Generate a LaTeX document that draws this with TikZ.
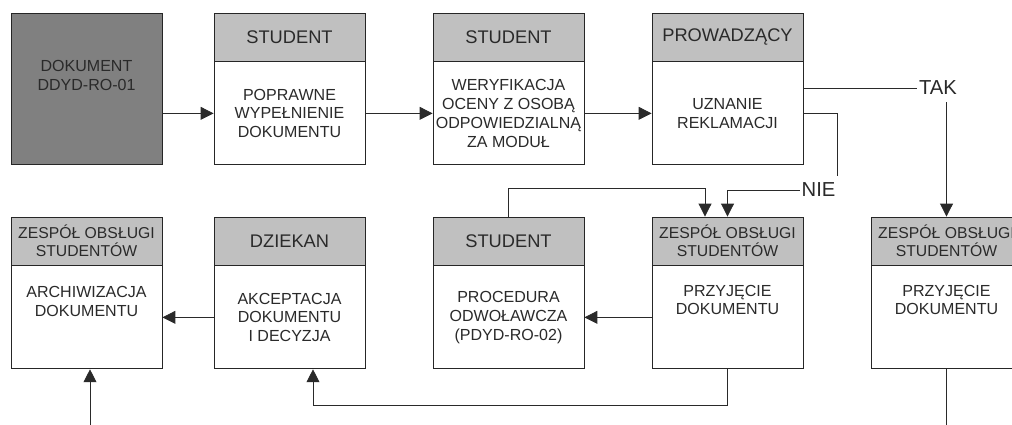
\documentclass[tikz,border=0pt]{standalone}
\usepackage{fontspec}
\setmainfont{Liberation Sans}
\usetikzlibrary{arrows.meta}
\definecolor{hdrgray}{HTML}{C0C0C0}
\definecolor{docgray}{HTML}{808080}
\definecolor{linegray}{HTML}{2A2A2A}
\tikzset{
x=0.025cm, y=-0.025cm, % one unit is one pixel of the page
>={Triangle[length=9.2pt,width=9.2pt]}, % solid black arrow heads
hdr/.style={draw=black!85, fill=hdrgray, minimum width=3.775cm, minimum height=1.2cm, inner sep=0pt, align=center, font=\fontsize{13}{15}\selectfont}, % grey title bar
zoshdr/.style={hdr, font=\fontsize{11.2}{12.8}\selectfont}, % two-line title bar
body/.style={draw=black!85, fill=white, minimum width=3.775cm, minimum height=2.575cm, inner sep=0pt, align=center, anchor=north, font=\fontsize{11.4}{13.4}\selectfont}, % white box under the bar
lbl/.style={inner xsep=1pt, inner ysep=5pt, font=\fontsize{14.4}{16}\selectfont}, % TAK / NIE
}
\begin{document}
\begin{tikzpicture}[line width=0.6pt, color=linegray]
        \clip (0,0) rectangle (1012,425);
        \node[draw=black!85, fill=docgray, minimum width=3.775cm, minimum height=3.775cm, align=center, font=\fontsize{11.4}{13.4}\selectfont] at (86.5,88.5) (dok) {DOKUMENT\\DDYD-RO-01\\[0.5em]};
        % top row
        \node[hdr] at (289.5,37) (h1) {STUDENT};
        \node[body] at (h1.south) (b1) {POPRAWNE\\WYPEŁNIENIE\\DOKUMENTU};
        \node[hdr] at (508.5,37) (h2) {STUDENT};
        \node[body] at (h2.south) (b2) {WERYFIKACJA\\OCENY Z OSOBĄ\\ODPOWIEDZIALNĄ\\ZA MODUŁ};
        \node[hdr] at (727.5,37) (h3) {PROWADZĄCY};
        \node[body] at (h3.south) (b3) {UZNANIE\\REKLAMACJI};
        % bottom row
        \node[zoshdr] at (86.5,241) (h4) {ZESPÓŁ OBSŁUGI\\STUDENTÓW};
        \node[body] at (h4.south) (b4) {ARCHIWIZACJA\\DOKUMENTU\\[0.8em]};
        \node[hdr] at (289.5,241) (h5) {DZIEKAN};
        \node[body] at (h5.south) (b5) {AKCEPTACJA\\DOKUMENTU\\I DECYZJA};
        \node[hdr] at (508.5,241) (h6) {STUDENT};
        \node[body] at (h6.south) (b6) {PROCEDURA\\ODWOŁAWCZA\\(PDYD-RO-02)};
        \node[zoshdr] at (727.5,241) (h7) {ZESPÓŁ OBSŁUGI\\STUDENTÓW};
        \node[body] at (h7.south) (b7) {PRZYJĘCIE\\DOKUMENTU\\[1em]};
        \node[zoshdr] at (946.5,241) (h8) {ZESPÓŁ OBSŁUGI\\STUDENTÓW};
        \node[body] at (h8.south) (b8) {PRZYJĘCIE\\DOKUMENTU\\[1em]};
        \node[lbl] at (938,88) (tak) {TAK};
        \node[lbl] at (818.5,190) (nie) {NIE};
        \coordinate (c1) at (705,188);
        \coordinate (c2) at (313,405);
        \coordinate (c3) at (90,425);
        \coordinate (c4) at (946.5,425);
        \draw[->]
        (dok.east |- b1.west) -- (b1.west);
        \draw[->] (b1) -- (b2);
        \draw[->] (b2) -- (b3);
        \draw (b3.east |- tak.west) -- (tak.west);
        \draw[->] (tak.south -| h8.north) -- (h8.north);
        \draw (b3.east) -| (nie.north east);
        \draw[->] (nie.west) -| (h7.north);
        \draw[->] (h6.north) |- (c1) -- (c1 |- h7.north);
        \draw[->] (b7.west) -- (b7.west -| b6.east);
        \draw[->] (b5.west) -- (b5.west -| b4.east);
        \draw[->] (b7.south) |- (c2) -- (c2 |- b5.south);
        \draw[->] (c3) -- (c3 |- b4.south);
        \draw (b8.south) -- (c4);
    \end{tikzpicture}
\end{document}
